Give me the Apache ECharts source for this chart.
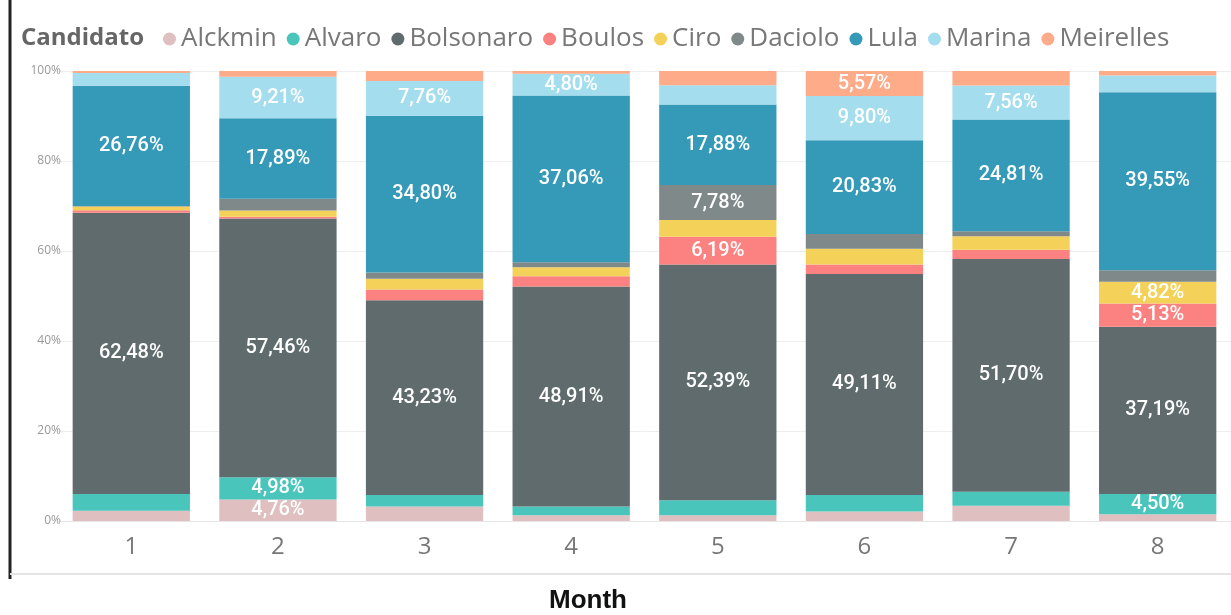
<!DOCTYPE html>
<html>
<head>
<meta charset="utf-8">
<script src="https://cdn.jsdelivr.net/npm/echarts@6/dist/echarts.min.js"></script>
<style>
  html, body { margin: 0; padding: 0; background: #fff; }
  #chart { width: 1231px; height: 615px; }
</style>
</head>
<body>
<div id="chart"></div>
<script>
// months 1..8
var months = ['1', '2', '3', '4', '5', '6', '7', '8'];
var candidates = ['Alckmin', 'Alvaro', 'Bolsonaro', 'Boulos', 'Ciro', 'Daciolo', 'Lula', 'Marina', 'Meirelles'];
var colors = ['#DFBFBF', '#4AC5BB', '#5F6B6D', '#FB8281', '#F4D25A', '#7F898A', '#3599B8', '#A4DDEE', '#FDAB89'];

// share of each candidate per month (%)
var alckmin   = [2.3, 4.76, 3.2, 1.3, 1.3, 2.1, 3.4, 1.5];
var alvaro    = [3.7, 4.98, 2.6, 1.9, 3.3, 3.7, 3.1, 4.50];
var bolsonaro = [62.48, 57.46, 43.23, 48.91, 52.39, 49.11, 51.70, 37.19];
var boulos    = [0.6, 0.4, 2.4, 2.3, 6.19, 2.09, 2.1, 5.13];
var ciro      = [0.8, 1.4, 2.4, 2.0, 3.7, 3.5, 3.0, 4.82];
var daciolo   = [0.1, 2.6, 1.4, 1.1, 7.78, 3.3, 1.1, 2.6];
var lula      = [26.76, 17.89, 34.80, 37.06, 17.88, 20.83, 24.81, 39.55];
var marina    = [2.8, 9.21, 7.76, 4.80, 4.3, 9.80, 7.56, 3.7];
var meirelles = [0.46, 1.3, 2.21, 0.63, 3.16, 5.57, 3.23, 1.01];

var yTicks = [0, 20, 40, 60, 80, 100];

var seriesData = [alckmin, alvaro, bolsonaro, boulos, ciro, daciolo, lula, marina, meirelles];

var chart = echarts.init(document.getElementById('chart'));

var series = [];
for (var i = 0; i < candidates.length; i++) {
    series.push({
        name: candidates[i],
        type: 'bar',
        stack: 'total',
        barCategoryGap: '20%',
        data: seriesData[i],
        itemStyle: { color: colors[i] },
        label: {
            show: true,
            position: 'inside',
            color: '#fff',
            fontFamily: 'Roboto',
            fontWeight: 500,
            fontSize: 20,
            formatter: function (p) {
                if (p.value < 4.4) return '';
                return p.value.toFixed(2).replace('.', ',') + '%';
            }
        }
    });
}

var option = {
    animation: false,
    backgroundColor: '#fff',
    title: {
        text: 'Candidato',
        left: 16,
        top: 21,
        textStyle: { fontFamily: 'Open Sans', fontSize: 24, fontWeight: 'bold', color: '#666' }
    },
    legend: {
        data: candidates,
        left: 158,
        top: 21,
        icon: 'circle',
        itemWidth: 13,
        itemHeight: 13,
        itemGap: 10,
        textStyle: { fontFamily: 'Open Sans', fontSize: 26, color: '#777' }
    },
    grid: {
        left: 58,
        top: 71,
        width: 1186,
        height: 450
    },
    xAxis: {
        type: 'category',
        data: months,
        axisTick: { show: false },
        axisLine: { lineStyle: { color: '#e6e6e6' } },
        axisLabel: { fontFamily: 'Open Sans', fontSize: 24, color: '#777', margin: 14 }
    },
    yAxis: {
        type: 'value',
        min: 0,
        max: 100,
        interval: 20,
        axisLabel: {
            fontFamily: 'Open Sans',
            fontSize: 12,
            color: '#999',
            margin: -3,
            formatter: function (v) { return yTicks.indexOf(v) >= 0 ? v + '%' : ''; }
        },
        splitLine: { lineStyle: { color: '#eeeeee' } }
    },
    graphic: [
        { type: 'line', shape: { x1: 10, y1: 0, x2: 10, y2: 579 }, style: { stroke: '#222', lineWidth: 3 } },
        { type: 'line', shape: { x1: 10, y1: 574, x2: 1231, y2: 574 }, style: { stroke: '#e4e4e4', lineWidth: 2 } },
        {
            type: 'text', left: 549, top: 588,
            style: { text: 'Month', font: 'bold 26px "Liberation Sans"', fill: '#111' }
        }
    ],
    series: series
};

chart.setOption(option);
</script>
</body>
</html>
